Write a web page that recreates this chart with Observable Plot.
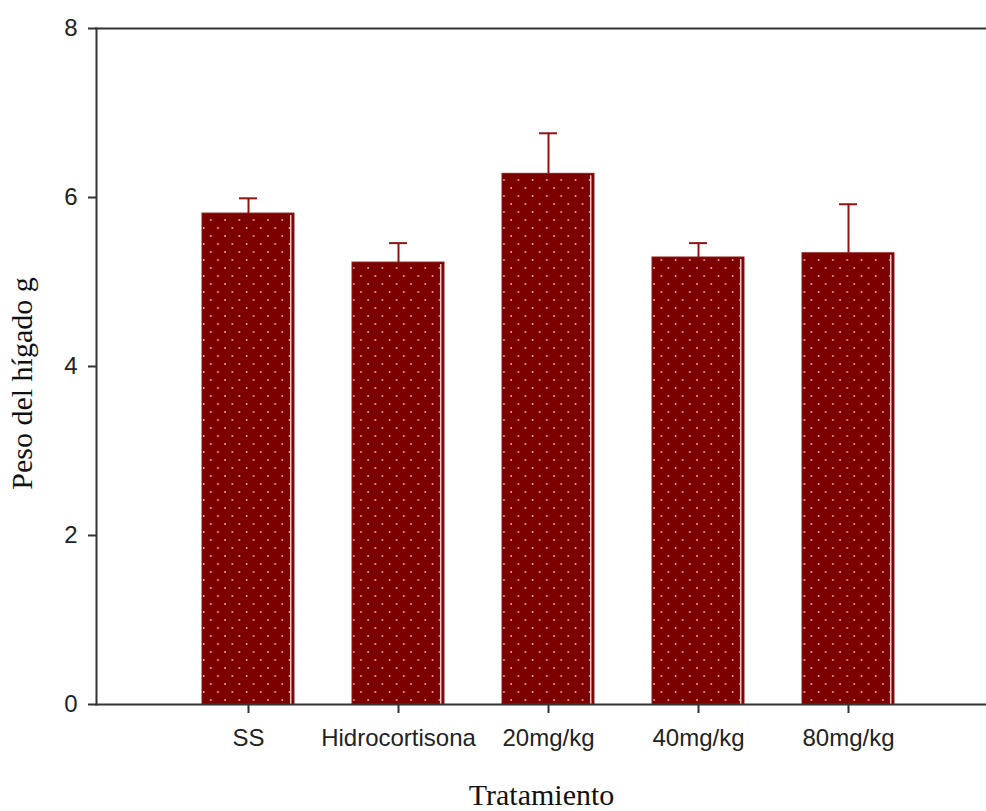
<!DOCTYPE html>
<html>
<head>
<meta charset="utf-8">
<script src="https://cdn.jsdelivr.net/npm/d3@7"></script>
<script src="https://cdn.jsdelivr.net/npm/@observablehq/plot@0.6"></script>
<style>
  html, body { margin: 0; padding: 0; background: #fff; }
  #chart svg { display: block; }
</style>
</head>
<body>
<div id="chart"></div>
<script>
// Liver weight (g) by treatment group: mean and upper error
const tratamientos = ["SS", "Hidrocortisona", "20mg/kg", "40mg/kg", "80mg/kg"];
const pesoMedio = [5.81, 5.23, 6.28, 5.29, 5.34];
const errorSup = [0.18, 0.23, 0.48, 0.17, 0.58];
const yTicks = [0, 2, 4, 6, 8];

const data = tratamientos.map((t, i) => ({
  tratamiento: t,
  peso: pesoMedio[i],
  alto: pesoMedio[i] + errorSup[i]
}));

const step = 150;
const padInner = 0.387;
const bandW = step * (1 - padInner);
const capW = 18;

const barColor = "#7d0000";
const errColor = "#8e1414";
const axisColor = "#333";

const chart = Plot.plot({
  width: 986,
  height: 811,
  marginTop: 28,
  marginBottom: 107,
  marginLeft: 96,
  marginRight: 0,
  style: { background: "#fff", overflow: "visible" },
  x: {
    type: "band",
    domain: tratamientos,
    range: [173, 923],
    paddingInner: padInner,
    paddingOuter: padInner / 2
  },
  y: { domain: [0, 8] },
  marks: [
    // bars with a dotted fill
    Plot.barY(data, { x: "tratamiento", y: "peso", fill: "url(#dots)", stroke: "#8a1a1a", strokeWidth: 1 }),
    // light highlight strip near the right edge of each bar
    Plot.barY(data, {
      x: "tratamiento", y: "peso",
      insetLeft: bandW - 4, insetRight: 2.5, insetTop: 2,
      fill: "#e9c4c4"
    }),
    // error bars: stem and cap
    Plot.ruleX(data, { x: "tratamiento", y1: "peso", y2: "alto", stroke: errColor, strokeWidth: 2 }),
    Plot.tickY(data, {
      x: "tratamiento", y: "alto",
      insetLeft: (bandW - capW) / 2, insetRight: (bandW - capW) / 2,
      stroke: errColor, strokeWidth: 2
    }),
    Plot.frame({ anchor: "left", stroke: axisColor, strokeWidth: 2 }),
    Plot.frame({ anchor: "top", stroke: axisColor, strokeWidth: 2 }),
    Plot.frame({ anchor: "bottom", stroke: axisColor, strokeWidth: 2 }),
    Plot.axisY({
      ticks: yTicks, tickFormat: d => d, tickSize: 8, tickPadding: 11,
      label: null, fontSize: 24, fontFamily: "Liberation Sans, Arial, sans-serif",
      stroke: axisColor, strokeWidth: 2, color: "#222"
    }),
    Plot.axisX({
      tickSize: 9, tickPadding: 15, label: null,
      fontSize: 24, fontFamily: "Liberation Sans, Arial, sans-serif",
      stroke: axisColor, strokeWidth: 2, color: "#222"
    }),
    Plot.text(["Peso del hígado g"], {
      frameAnchor: "left", rotate: -90, textAnchor: "middle", dx: -74, dy: 17,
      fontSize: 30, fontFamily: "Liberation Serif, Times New Roman, serif", fill: "#111"
    }),
    Plot.text(["Tratamiento"], {
      frameAnchor: "bottom", dy: 100,
      fontSize: 30, fontFamily: "Liberation Serif, Times New Roman, serif", fill: "#111"
    })
  ]
});

// dotted pattern used as the bar fill
const ns = "http://www.w3.org/2000/svg";
const defs = document.createElementNS(ns, "defs");
const pat = document.createElementNS(ns, "pattern");
pat.setAttribute("id", "dots");
pat.setAttribute("patternUnits", "userSpaceOnUse");
pat.setAttribute("width", 14.3);
pat.setAttribute("height", 16);
const bg = document.createElementNS(ns, "rect");
bg.setAttribute("width", 14.3);
bg.setAttribute("height", 16);
bg.setAttribute("fill", barColor);
pat.appendChild(bg);
for (const [cx, cy] of [[3.5, 4], [10.6, 12]]) {
  const c = document.createElementNS(ns, "circle");
  c.setAttribute("cx", cx);
  c.setAttribute("cy", cy);
  c.setAttribute("r", 0.9);
  c.setAttribute("fill", "#e8b8b8");
  pat.appendChild(c);
}
defs.appendChild(pat);
chart.insertBefore(defs, chart.firstChild);

document.getElementById("chart").appendChild(chart);
</script>
</body>
</html>
